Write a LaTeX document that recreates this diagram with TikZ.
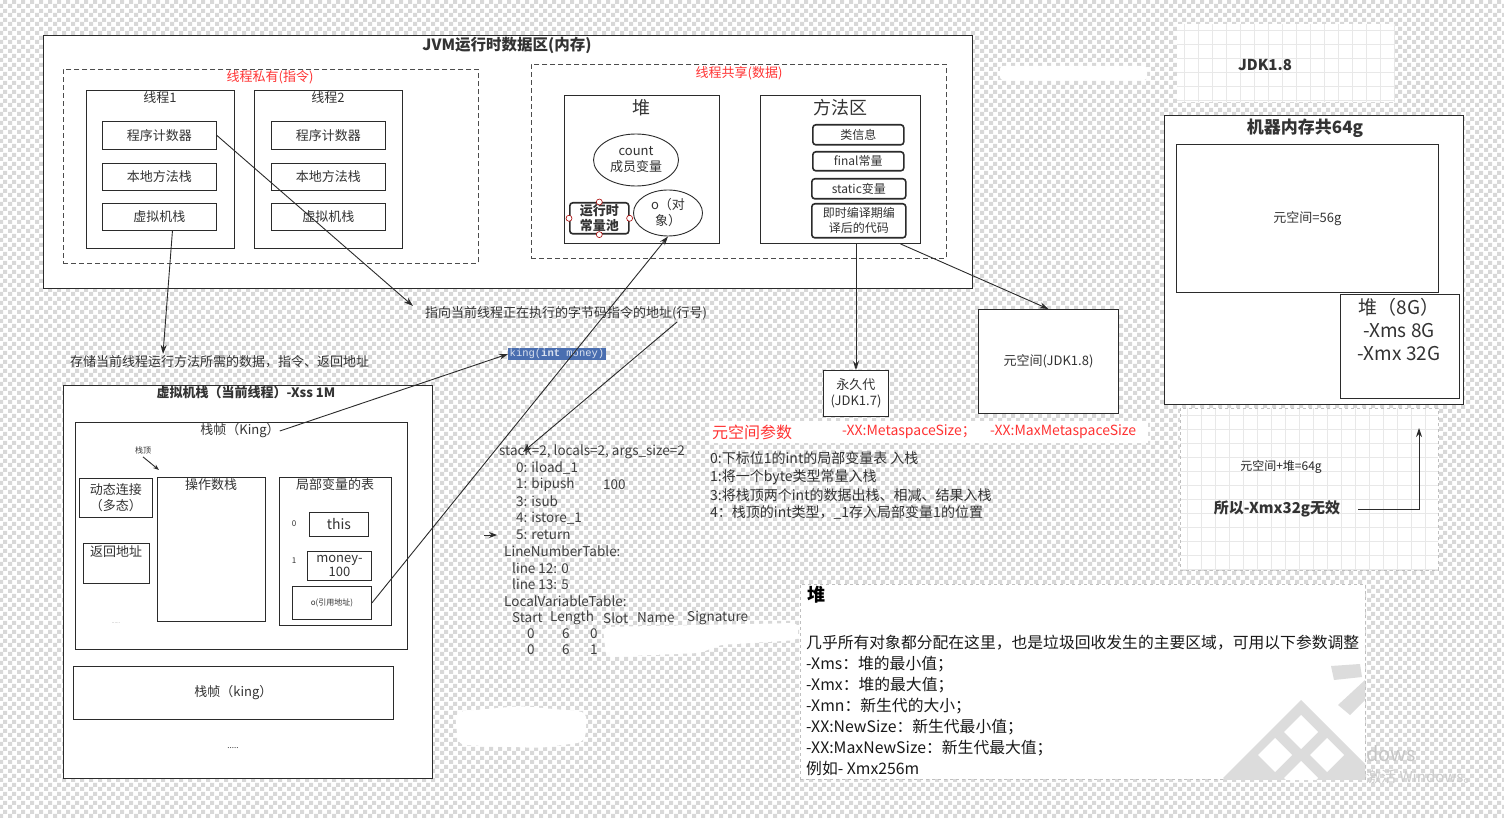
\documentclass[tikz,border=0pt]{standalone}
\usepackage{fontspec}
\setmainfont{Noto Sans CJK SC}
\newfontfamily\monof{Liberation Mono}
\usetikzlibrary{arrows.meta,shapes.geometric,patterns.meta}
\definecolor{txt}{HTML}{333333}
\definecolor{bd}{HTML}{2B2B2B}
\definecolor{redt}{HTML}{FF3333}
\definecolor{hl}{HTML}{4A6EB0}
\definecolor{chk}{HTML}{D8D8D8}
\definecolor{gridc}{HTML}{E8E8E8}
\definecolor{wm}{HTML}{DCDCDC}
\newcommand\fsz[2]{\fontsize{#1pt}{#2pt}\selectfont}
\newcommand\boxat[7][]{\node[box,anchor=north west,minimum width={(#4-#2)*1pt},minimum height={(#5-#3)*1pt},#1] (#6) at (#2,#3) {#7};}
\tikzdeclarepattern{
  name=checks,
  type=uncolored,
  bounding box={(0pt,0pt) and (9pt,9pt)},
  tile size={(9pt,9pt)},
  code={\fill (0pt,0pt) rectangle (4.5pt,4.5pt); \fill (4.5pt,4.5pt) rectangle (9pt,9pt);}
}
\begin{document}
\begin{tikzpicture}[x=1pt,y=-1pt,
  box/.style={draw=bd, fill=white, line width=0.9pt, inner sep=1pt, text=txt, align=center},
  dbox/.style={draw=black!70, dash pattern=on 5pt off 3pt, line width=0.9pt, fill=white},
  rbx/.style={box, rounded corners=3pt, line width=1.6pt},
  lbl/.style={text=txt, inner sep=0pt, align=center},
  lft/.style={text=txt, inner sep=0pt, anchor=west},
  arr/.style={draw=bd, line width=0.9pt, -{Stealth[length=9pt,width=6pt]}},
]
% background
\fill[white] (0,0) rectangle (1504,818);
\fill[pattern=checks, pattern color=chk] (0,0) rectangle (1504,818);
\useasboundingbox (0,0) rectangle (1504,818);

% ===== JVM runtime data area =====
\boxat{43}{35}{972}{288}{jvm}{}
\node[lbl, font=\fsz{15.5}{18}\bfseries] (jvmt) at (507,45) {JVM运行时数据区(内存)};

\boxat[dbox]{63}{69}{478}{263}{priv}{}
\node[lbl, text=redt, font=\fsz{13}{15}] (privt) at (270,77) {线程私有(指令)};

\boxat{86}{90}{234}{248}{t1}{}
\node[lbl, font=\fsz{13}{15}] (t1t) at (160,98) {线程1};
\boxat[font=\fsz{13}{15}]{102}{121}{216}{149}{pc1}{程序计数器}
\boxat[font=\fsz{13}{15}]{102}{163}{216}{190}{ns1}{本地方法栈}
\boxat[font=\fsz{13}{15}]{102}{203}{216}{230}{vs1}{虚拟机栈}

\boxat{254}{90}{402}{248}{t2}{}
\node[lbl, font=\fsz{13}{15}] (t2t) at (328,98) {线程2};
\boxat[font=\fsz{13}{15}]{271}{121}{385}{149}{pc2}{程序计数器}
\boxat[font=\fsz{13}{15}]{271}{163}{385}{190}{ns2}{本地方法栈}
\boxat[font=\fsz{13}{15}]{271}{203}{385}{230}{vs2}{虚拟机栈}

\boxat[dbox]{531}{64}{946}{258}{shared}{}
\node[lbl, text=redt, font=\fsz{13}{15}] (sharedt) at (739,73) {线程共享(数据)};

\boxat{564}{95}{719}{243}{heap}{}
\node[lbl, font=\fsz{18}{20}] (heapt) at (641,108) {堆};
\node[box, ellipse, minimum width=85pt, minimum height=52pt, inner sep=0pt, font=\fsz{13}{16}] (cnt) at (636,160) {count\\成员变量};
\boxat[rbx, inner sep=0pt, font=\fsz{13}{15}\bfseries]{569}{202}{628}{233}{rcp}{运行时\\常量池}
\foreach \p in {north,south,east,west}
  \draw[draw=red!65!black, fill=white, line width=0.6pt] (rcp.\p) circle (3pt);
\node[box, ellipse, minimum width=69pt, minimum height=46pt, inner sep=0pt, font=\fsz{13}{16}] (oobj) at (668,213) {o（对\\象）};

\boxat{760}{95}{920}{243}{ma}{}
\node[lbl, font=\fsz{18}{20}] (mat) at (840,108) {方法区};
\boxat[rbx, font=\fsz{12}{14}]{812}{124}{903}{144}{cls}{类信息}
\boxat[rbx, font=\fsz{12}{14}]{812}{151}{903}{170}{fin}{final常量}
\boxat[rbx, font=\fsz{12}{14}]{811}{178}{905}{198}{stv}{static变量}
\boxat[rbx, inner sep=0pt, font=\fsz{12}{15}]{811}{203}{905}{237}{jit}{即时编译期编\\译后的代码}

\boxat[font=\fsz{13}{16}]{823}{370}{888}{416}{perm}{永久代\\(JDK1.7)}
\boxat[font=\fsz{13}{15}]{978}{309}{1118}{413}{meta}{元空间(JDK1.8)}
\draw[arr] (perm.north |- ma.south) -- (perm.north);
\draw[arr] ([xshift=60pt]ma.south) -- (meta.north);

% ===== right side =====
\fill[white] (1177,24) rectangle (1395,102);
\foreach \x in {1184,1198,...,1394} \draw[gridc, line width=0.6pt] (\x,24) -- (\x,102);
\foreach \y in {30,44,...,101} \draw[gridc, line width=0.6pt] (1177,\y) -- (1395,\y);
\node[lbl, font=\fsz{15}{18}\bfseries] (jdk) at (1265,65) {JDK1.8};
\fill[white, rounded corners=3pt] (1000,66) rectangle (1147,80);

\boxat{1164}{115}{1463}{404}{mach}{}
\node[lbl, font=\fsz{17}{20}\bfseries] (macht) at (1305,128) {机器内存共64g};
\boxat[font=\fsz{13}{15}]{1176}{144}{1438}{292}{ms56}{元空间=56g}
\boxat{1340}{294}{1459}{398}{heap8}{}
\node[lbl, font=\fsz{19}{23}] (heap8t) at (1399,329) {堆（8G）\\-Xms 8G\\-Xmx 32G};

\fill[white] (1180,408) rectangle (1438,570);
\foreach \x in {1187,1201,...,1437} \draw[gridc, line width=0.6pt] (\x,408) -- (\x,570);
\foreach \y in {415,429,...,569} \draw[gridc, line width=0.6pt] (1180,\y) -- (1438,\y);
\draw[black!25, dashed] (1180,408) rectangle (1438,570);
\node[lbl, text=black!85, font=\fsz{12}{14}] (sum) at (1281,467) {元空间+堆=64g};
\node[lbl, font=\fsz{15}{18}\bfseries] (so) at (1277,509) {所以-Xmx32g无效};
\coordinate (up) at (1419,428);
\draw[arr] ([xshift=18pt]so.east) -| (up);

% ===== middle annotations =====
\node[lft, font=\fsz{13}{15}] (ptr) at (425,313) {指向当前线程正在执行的字节码指令的地址(行号)};
\node[lft, font=\fsz{13}{15}] (store) at (70,362) {存储当前线程运行方法所需的数据，指令、返回地址};
\node[fill=hl, text=white!80!hl, font=\monof\fsz{10.5}{12}, inner sep=1.5pt, anchor=west] (king) at (508,354) {king(\textbf{int} money)};

% ===== VM stack (current thread) =====
\boxat{63}{385}{432}{778}{vmstack}{}
\node[lbl, font=\fsz{13}{15}\bfseries] (vmst) at (246,393) {虚拟机栈（当前线程）-Xss 1M};
\boxat{75}{422}{407}{649}{frame}{}
\node[lbl, font=\fsz{13}{15}] (ftitle) at (240,431) {栈帧（King）};
\node[lbl, font=\fsz{8}{9}] (stop) at (143,450) {栈顶};
\coordinate (stopend) at (159,470);
\draw[draw=bd, line width=0.9pt, -{Stealth[length=6pt,width=4.5pt]}] ([yshift=-3pt]stop.south) -- (stopend);
\boxat[font=\fsz{13}{16}]{79}{478}{152}{517}{dyn}{动态连接\\（多态）}
\boxat{83}{543}{149}{583}{ret}{}
\node[lbl, font=\fsz{13}{15}] (rett) at (116,552) {返回地址};
\node[lbl, text=black!50, font=\fsz{5}{6}] (dots1) at (116,623) {......};
\boxat{157}{477}{265}{621}{ops}{}
\node[lbl, font=\fsz{13}{15}] (opst) at (211,485) {操作数栈};
\boxat{279}{477}{391}{625}{lvt}{}
\node[lbl, font=\fsz{13}{15}] (lvtt) at (335,485) {局部变量的表};
\boxat[font=\fsz{14}{16}]{309}{512}{368}{536}{this}{this}
\node[lbl, font=\fsz{8}{9}] (i0) at (294,524) {0};
\boxat[inner sep=0pt, font=\fsz{13}{14}]{307}{551}{371}{580}{money}{money-\\100}
\node[lbl, font=\fsz{8}{9}] (i1) at (294,561) {1};
\boxat[font=\fsz{8}{9}]{292}{586}{371}{619}{oref}{o(引用地址)}
\boxat[font=\fsz{13}{15}]{73}{666}{393}{719}{frame2}{栈帧（king）}
\node[lbl, font=\fsz{8}{9}] (dots2) at (233,748) {.....};

% ===== bytecode listing =====
\begin{scope}[every node/.style={lft, text=black!75, font=\fsz{13.5}{15}}]
\node (bc0) at (499,452) {stack=2, locals=2, args\_size=2};
\node (bc1) at (516,468) {0: iload\_1};
\node (bc2) at (516,485) {1: bipush};
\node (bc2b) at (603,485) {100};
\node (bc3) at (516,501) {3: isub};
\node (bc4) at (516,518) {4: istore\_1};
\node (bc5) at (516,535) {5: return};
\node (bc6) at (504,551) {LineNumberTable:};
\node (bc7) at (512,568) {line 12: 0};
\node (bc8) at (512,584) {line 13: 5};
\node (bc9) at (504,601) {LocalVariableTable:};
\node (h1) at (512,618) {Start};
\node (h2) at (550,618) {Length};
\node (h3) at (603,618) {Slot};
\node (h4) at (637,618) {Name};
\node (h5) at (687,618) {Signature};
\node (r1a) at (527,634) {0};
\node (r1b) at (562,634) {6};
\node (r1c) at (590,634) {0};
\node (r2a) at (527,650) {0};
\node (r2b) at (562,650) {6};
\node (r2c) at (590,650) {1};
\end{scope}
\fill[white, rounded corners=5pt] (603,627) -- (798,623) -- (798,640) -- (720,645) -- (700,653) -- (606,657) -- cycle;
\fill[white, rounded corners=8pt] (455,712) -- (520,706) -- (587,712) -- (585,742) -- (540,748) -- (458,745) -- cycle;

% ===== metaspace params and explanation =====
\fill[white] (710,421) rectangle (1148,443);
\node[lft, text=redt, font=\fsz{16}{18}] (mp) at (712,432) {元空间参数};
\node[lft, text=redt, font=\fsz{14}{16}] (mp1) at (842,432) {-XX:MetaspaceSize；};
\node[lft, text=redt, font=\fsz{14}{16}] (mp2) at (990,432) {-XX:MaxMetaspaceSize};
\begin{scope}[every node/.style={lft, font=\fsz{14}{16}}]
\node (e0) at (710,458) {0:下标位1的int的局部变量表 入栈};
\node (e1) at (710,477) {1:将一个byte类型常量入栈};
\node (e2) at (710,495) {3:将栈顶两个int的数据出栈、相减、结果入栈};
\node (e3) at (710,513) {4：栈顶的int类型，\_1存入局部变量1的位置};
\end{scope}

% ===== heap panel =====
\node[draw=black!25, dashed, fill=white, anchor=north west, minimum width=565pt, minimum height=195pt] (hp) at (800,584) {};
\begin{scope}
\clip (800,584) rectangle (1365,779);
\fill[wm] (1301,700) -- (1379,778) -- (1301,856) -- (1223,778) -- cycle;
\foreach \cx/\cy in {1301/732, 1275/755, 1327/755, 1301/778}
  \fill[white] (\cx,\cy-17) -- (\cx+17,\cy) -- (\cx,\cy+17) -- (\cx-17,\cy) -- cycle;
\fill[wm] (1331,666) -- (1360,664) -- (1362,677) -- (1334,680) -- cycle;
\fill[wm] (1338,705) -- (1365,680) -- (1365,700) -- (1350,715) -- cycle;
\end{scope}
\node[lft, text=black, font=\fsz{18}{20}\bfseries] (hpt) at (807,595) {堆};
\begin{scope}[every node/.style={lft, text=black!90, font=\fsz{15.8}{17}}]
\node (p0) at (806,643) {几乎所有对象都分配在这里，也是垃圾回收发生的主要区域，可用以下参数调整};
\node (p1) at (806,664) {-Xms：堆的最小值；};
\node (p2) at (806,685) {-Xmx：堆的最大值；};
\node (p3) at (806,706) {-Xmn：新生代的大小；};
\node (p4) at (806,727) {-XX:NewSize：新生代最小值；};
\node (p5) at (806,748) {-XX:MaxNewSize：新生代最大值；};
\node (p6) at (806,769) {例如- Xmx256m};
\end{scope}
\node[lft, text=black!22, font=\fsz{20}{22}] (wm1) at (1366,754) {dows};
\node[lft, text=black!20, font=\fsz{15}{17}] (wm2) at (1366,777) {激活 Windows。};

% ===== connectors =====
\draw[arr] (pc1.east) -- ([xshift=-12pt,yshift=7pt]ptr.west);
\draw[arr] ([xshift=13pt]vs1.south) -- ([xshift=93pt,yshift=8pt]store.west);
\draw[arr] (ftitle.east) -- (king.west);
\draw[arr] (oref.east) -- (oobj.south);
\coordinate (sfrom) at (677,322);
\draw[arr] (sfrom) -- ([xshift=24pt]bc0.west);
\coordinate (rA) at (484,535);
\draw[draw=bd, line width=0.9pt, -{Stealth[length=8pt,width=6pt]}] (rA) -- ([xshift=-19pt]bc5.west);
\end{tikzpicture}
\end{document}
